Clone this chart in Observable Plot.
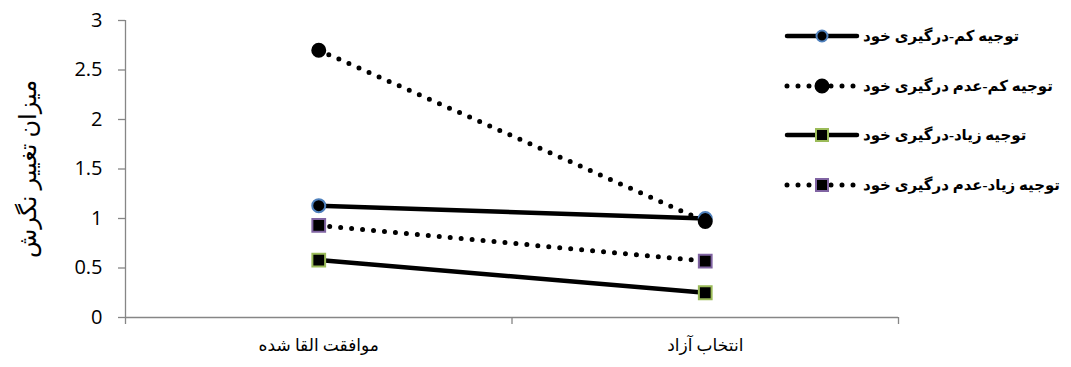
<!DOCTYPE html>
<html>
<head>
<meta charset="utf-8">
<script src="https://cdn.jsdelivr.net/npm/d3@7"></script>
<script src="https://cdn.jsdelivr.net/npm/@observablehq/plot@0.6"></script>
<style>
  html, body { margin: 0; padding: 0; background: #fff; }
  #wrap { position: relative; width: 1071px; height: 367px; }
  #legend { position: absolute; left: 0; top: 0; pointer-events: none; }
</style>
</head>
<body>
<div id="wrap"></div>
<script>
// ---- data ----
const categories = ["موافقت القا شده", "انتخاب آزاد"];
const seriesNames = [
  "توجیه کم-درگیری خود",
  "توجیه کم-عدم درگیری خود",
  "توجیه زیاد-درگیری خود",
  "توجیه زیاد-عدم درگیری خود"
];
const lowJustInvolved    = [1.13, 1.00];
const lowJustNotInvolved = [2.70, 0.97];
const highJustInvolved   = [0.58, 0.25];
const highJustNotInvolved= [0.93, 0.57];
const yTicks = [0, 0.5, 1, 1.5, 2, 2.5, 3];
const yTickLabels = ["0", "0.5", "1", "1.5", "2", "2.5", "3"];
const yLabel = "میزان تغییر نگرش";

// ---- styles ----
const styles = [
  {dash: null,    symbol: "circle", stroke: "#4f81bd"},
  {dash: "0 11",  symbol: "circle", stroke: "#000000"},
  {dash: null,    symbol: "square", stroke: "#9bbb59"},
  {dash: "0 11",  symbol: "square", stroke: "#8064a2"}
];
const values = [lowJustInvolved, lowJustNotInvolved, highJustInvolved, highJustNotInvolved];

const rows = [];
values.forEach((vals, s) => vals.forEach((v, i) => rows.push({series: seriesNames[s], s, x: i + 0.5, cat: categories[i], y: v})));

const persianFont = "'Times New Roman', 'Liberation Serif', 'DejaVu Sans', serif";
const axisGrey = "#868686";

const marks = [
  Plot.ruleY([0], {stroke: axisGrey, strokeWidth: 1.3}),
  Plot.ruleX([0], {stroke: axisGrey, strokeWidth: 1.3}),
  Plot.axisY({ticks: yTicks, tickSize: 7, tickPadding: 16, stroke: axisGrey, strokeWidth: 1.3,
    tickFormat: d => yTickLabels[yTicks.indexOf(d)],
    fontSize: 20, fill: "#000", label: null, fontFamily: "'Open Sans', Lato, sans-serif"}),
  Plot.axisX({ticks: [0, 1, 2], tickSize: 7, tickFormat: () => "", stroke: axisGrey, strokeWidth: 1.3, label: null}),
  Plot.text(categories.map((c, i) => ({c, x: i + 0.5})), {x: "x", text: "c", frameAnchor: "bottom", dy: 33,
    fontSize: 17, fontFamily: persianFont, fill: "#000"}),
  Plot.text([yLabel], {frameAnchor: "left", textAnchor: "middle", dx: -97, rotate: -90, fontSize: 24,
    fontFamily: persianFont, fill: "#000"})
];

values.forEach((vals, s) => {
  const data = rows.filter(d => d.s === s);
  const st = styles[s];
  marks.push(Plot.line(data, {x: "x", y: "y", stroke: "#000", strokeWidth: st.dash ? 5 : 4.5,
    strokeDasharray: st.dash || undefined, strokeLinecap: "round"}));
});
values.forEach((vals, s) => {
  const data = rows.filter(d => d.s === s);
  const st = styles[s];
  marks.push(Plot.dot(data, {x: "x", y: "y", symbol: () => st.symbol, r: st.symbol === "square" ? 7.2 : 6.5,
    fill: "#000", stroke: st.stroke, strokeWidth: 2}));
});

const chart = Plot.plot({
  width: 1071,
  height: 367,
  marginTop: 20,
  marginBottom: 50,
  marginLeft: 125,
  marginRight: 173,
  x: {domain: [0, 2], axis: null},
  y: {domain: [0, 3], axis: null},
  symbol: {type: "identity"},
  marks
});
document.getElementById("wrap").appendChild(chart);

// ---- legend ----
const leg = d3.select("#wrap").append("svg").attr("id", "legend").attr("width", 1071).attr("height", 367);
const rowY = [36, 86, 135, 185];
seriesNames.forEach((name, s) => {
  const st = styles[s];
  const g = leg.append("g").attr("transform", `translate(0,${rowY[s]})`);
  g.append("line").attr("x1", 787).attr("x2", 857).attr("y1", 0).attr("y2", 0)
    .attr("stroke", "#000").attr("stroke-width", st.dash ? 5 : 4.5)
    .attr("stroke-linecap", "round").attr("stroke-dasharray", st.dash);
  if (st.symbol === "circle") {
    g.append("circle").attr("cx", 822).attr("cy", 0).attr("r", s === 1 ? 6.5 : 5.5)
      .attr("fill", "#000").attr("stroke", st.stroke).attr("stroke-width", 2);
  } else {
    g.append("rect").attr("x", 816).attr("y", -6).attr("width", 12).attr("height", 12)
      .attr("fill", "#000").attr("stroke", st.stroke).attr("stroke-width", 2);
  }
  g.append("text").attr("x", 863).attr("y", 0).attr("dy", "0.35em")
    .attr("font-family", persianFont).attr("font-weight", "bold").attr("font-size", 15)
    .attr("fill", "#000").text(name);
});
</script>
</body>
</html>
